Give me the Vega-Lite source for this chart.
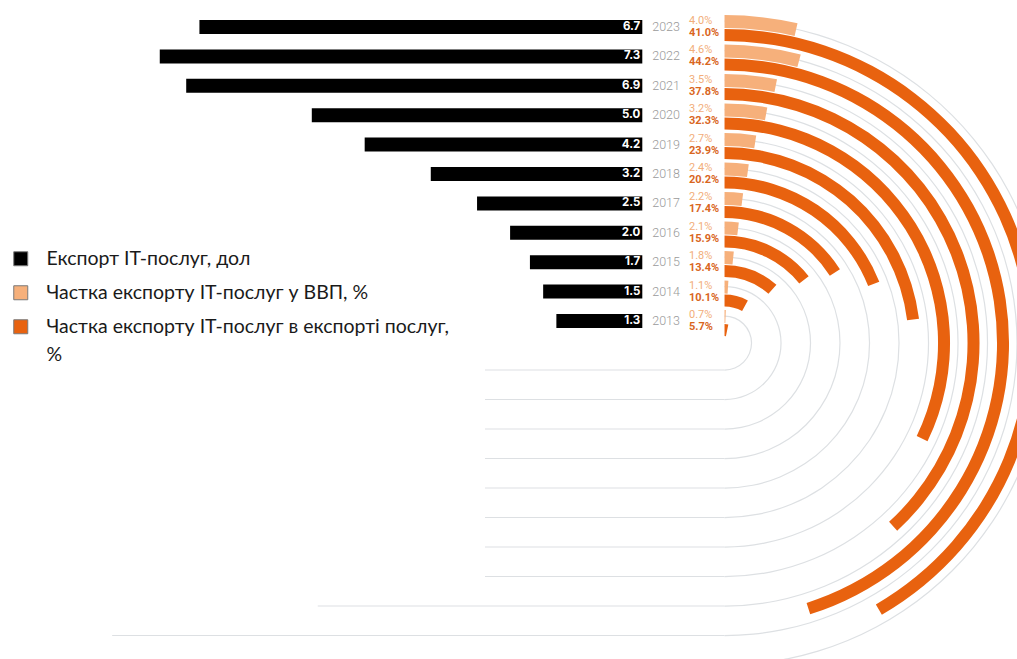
{
  "$schema": "https://vega.github.io/schema/vega-lite/v6.json",
  "width": 1017,
  "height": 659,
  "autosize": "none",
  "padding": 0,
  "background": "white",
  "config": {"view": {"stroke": null}, "style": {"guide-label": {"lineHeight": 28}}},
  "data": {
    "values": [
      {"year": 2023, "export": 6.7, "gdp": 0.040, "services": 0.410},
      {"year": 2022, "export": 7.3, "gdp": 0.046, "services": 0.442},
      {"year": 2021, "export": 6.9, "gdp": 0.035, "services": 0.378},
      {"year": 2020, "export": 5.0, "gdp": 0.032, "services": 0.323},
      {"year": 2019, "export": 4.2, "gdp": 0.027, "services": 0.239},
      {"year": 2018, "export": 3.2, "gdp": 0.024, "services": 0.202},
      {"year": 2017, "export": 2.5, "gdp": 0.022, "services": 0.174},
      {"year": 2016, "export": 2.0, "gdp": 0.021, "services": 0.159},
      {"year": 2015, "export": 1.7, "gdp": 0.018, "services": 0.134},
      {"year": 2014, "export": 1.5, "gdp": 0.011, "services": 0.101},
      {"year": 2013, "export": 1.3, "gdp": 0.007, "services": 0.057}
    ]
  },
  "resolve": {"scale": {"y": "independent", "theta": "independent"}},
  "layer": [
    {
      "transform": [{"filter": "datum.year <= 2020"}],
      "mark": {"type": "rule", "color": "#dde0e3", "strokeWidth": 1.2},
      "encoding": {
        "x": {"datum": 2.38, "type": "quantitative", "scale": {"domain": [0, 9.717], "range": [642.3, 0]}, "axis": null},
        "x2": {"datum": -1.244},
        "y": {"field": "year", "type": "quantitative", "scale": {"domain": [2013, 2023], "range": [370, 665], "nice": false}, "axis": null}
      }
    },
    {
      "transform": [{"filter": "datum.year == 2021"}],
      "mark": {"type": "rule", "color": "#dde0e3", "strokeWidth": 1.2},
      "encoding": {
        "x": {"datum": 4.91, "type": "quantitative", "scale": {"domain": [0, 9.717], "range": [642.3, 0]}, "axis": null},
        "x2": {"datum": -1.244},
        "y": {"field": "year", "type": "quantitative", "scale": {"domain": [2013, 2023], "range": [370, 665], "nice": false}, "axis": null}
      }
    },
    {
      "transform": [{"filter": "datum.year == 2022"}],
      "mark": {"type": "rule", "color": "#dde0e3", "strokeWidth": 1.2},
      "encoding": {
        "x": {"datum": 8.02, "type": "quantitative", "scale": {"domain": [0, 9.717], "range": [642.3, 0]}, "axis": null},
        "x2": {"datum": -1.244},
        "y": {"field": "year", "type": "quantitative", "scale": {"domain": [2013, 2023], "range": [370, 665], "nice": false}, "axis": null}
      }
    },
    {
      "mark": {"type": "arc", "theta": 0, "theta2": 3.14159, "color": "#dde0e3", "radiusOffset": -5.4, "radius2Offset": -6.6},
      "encoding": {
        "x": {"datum": -1.244, "type": "quantitative", "scale": {"domain": [0, 9.717], "range": [642.3, 0]}, "axis": null},
        "y": {"datum": 2012.25, "type": "quantitative", "scale": {"domain": [2013, 2023], "range": [321, 27], "nice": false}, "axis": null},
        "radius": {"field": "year", "type": "quantitative", "scale": {"type": "linear", "zero": false, "domain": [2013, 2023], "range": [33, 328]}},
        "radius2": {"field": "year"}
      }
    },
    {
      "mark": {"type": "arc", "radius2Offset": -13},
      "encoding": {
        "x": {"datum": -1.244, "type": "quantitative", "scale": {"domain": [0, 9.717], "range": [642.3, 0]}, "axis": null},
        "y": {"datum": 2012.25, "type": "quantitative", "scale": {"domain": [2013, 2023], "range": [321, 27], "nice": false}, "axis": null},
        "theta": {"field": "gdp", "type": "quantitative", "stack": null, "scale": {"type": "linear", "zero": false, "domain": [0, 0.56], "range": [0, 3.14159]}},
        "theta2": {"datum": 0},
        "radius": {"field": "year", "type": "quantitative", "scale": {"type": "linear", "zero": false, "domain": [2013, 2023], "range": [33, 328]}},
        "radius2": {"field": "year"},
        "color": {"datum": "Частка експорту IT-послуг у ВВП, %", "type": "nominal"}
      }
    },
    {
      "mark": {"type": "arc", "radiusOffset": -14, "radius2Offset": -26},
      "encoding": {
        "x": {"datum": -1.244, "type": "quantitative", "scale": {"domain": [0, 9.717], "range": [642.3, 0]}, "axis": null},
        "y": {"datum": 2012.25, "type": "quantitative", "scale": {"domain": [2013, 2023], "range": [321, 27], "nice": false}, "axis": null},
        "theta": {"field": "services", "type": "quantitative", "stack": null, "scale": {"type": "linear", "zero": false, "domain": [0.0276, 0.4867], "range": [0, 3.14159]}},
        "theta2": {"datum": 0.0276},
        "radius": {"field": "year", "type": "quantitative", "scale": {"type": "linear", "zero": false, "domain": [2013, 2023], "range": [33, 328]}},
        "radius2": {"field": "year"},
        "color": {"datum": "Частка експорту IT-послуг в експорті послуг, %", "type": "nominal"}
      }
    },
    {
      "mark": {"type": "bar", "orient": "horizontal", "size": 14},
      "encoding": {
        "x": {"field": "export", "type": "quantitative", "scale": {"domain": [0, 9.717], "range": [642.3, 0]}, "axis": null},
        "x2": {"datum": 0},
        "y": {"field": "year", "type": "quantitative", "scale": {"domain": [2013, 2023], "range": [321, 27], "nice": false, "padding": 0}, "axis": null},
        "color": {
          "datum": "Експорт IT-послуг, дол",
          "type": "nominal",
          "scale": {
            "domain": ["Експорт IT-послуг, дол", "Частка експорту IT-послуг у ВВП, %", "Частка експорту IT-послуг в експорті послуг, %"],
            "range": ["#000000", "#F6B07B", "#E8620F"]
          },
          "legend": {
            "orient": "none",
            "legendX": 11,
            "legendY": 249,
            "title": null,
            "symbolType": "square",
            "symbolSize": 196,
            "symbolStrokeColor": "#7a7a7a",
            "symbolStrokeWidth": 1,
            "labelFont": "Lato",
            "labelFontSize": 19.5,
            "labelColor": "#1a1a1a",
            "labelOffset": 16,
            "labelLimit": 800,
            "rowPadding": 13,
            "labelExpr": "datum.label == 'Частка експорту IT-послуг в експорті послуг, %' ? ['Частка експорту IT-послуг в експорті послуг,', '%'] : datum.label"
          }
        }
      }
    },
    {
      "mark": {"type": "text", "align": "right", "baseline": "middle", "dx": -2, "color": "white", "font": "Inter", "fontWeight": "bold", "fontSize": 11.5},
      "encoding": {
        "x": {"datum": 0, "type": "quantitative", "scale": {"domain": [0, 9.717], "range": [642.3, 0]}, "axis": null},
        "y": {"field": "year", "type": "quantitative", "scale": {"domain": [2013, 2023], "range": [321, 27], "nice": false}, "axis": null},
        "text": {"field": "export", "type": "quantitative", "format": ".1f"}
      }
    },
    {
      "mark": {"type": "text", "align": "center", "baseline": "middle", "color": "#9a9a9a", "font": "Roboto", "fontWeight": 300, "fontSize": 12.5},
      "encoding": {
        "x": {"datum": -0.36, "type": "quantitative", "scale": {"domain": [0, 9.717], "range": [642.3, 0]}, "axis": null},
        "y": {"field": "year", "type": "quantitative", "scale": {"domain": [2013, 2023], "range": [321, 27], "nice": false}, "axis": null},
        "text": {"field": "year", "type": "quantitative", "format": "d"}
      }
    },
    {
      "mark": {"type": "text", "align": "left", "baseline": "middle", "dy": -6, "color": "#F2AE7A", "font": "Roboto", "fontSize": 11},
      "encoding": {
        "x": {"datum": -0.706, "type": "quantitative", "scale": {"domain": [0, 9.717], "range": [642.3, 0]}, "axis": null},
        "y": {"field": "year", "type": "quantitative", "scale": {"domain": [2013, 2023], "range": [321, 27], "nice": false}, "axis": null},
        "text": {"field": "gdp", "type": "quantitative", "format": ".1%"}
      }
    },
    {
      "mark": {"type": "text", "align": "left", "baseline": "middle", "dy": 6, "color": "#D9661E", "font": "Roboto", "fontWeight": "bold", "fontSize": 11},
      "encoding": {
        "x": {"datum": -0.706, "type": "quantitative", "scale": {"domain": [0, 9.717], "range": [642.3, 0]}, "axis": null},
        "y": {"field": "year", "type": "quantitative", "scale": {"domain": [2013, 2023], "range": [321, 27], "nice": false}, "axis": null},
        "text": {"field": "services", "type": "quantitative", "format": ".1%"}
      }
    }
  ]
}
